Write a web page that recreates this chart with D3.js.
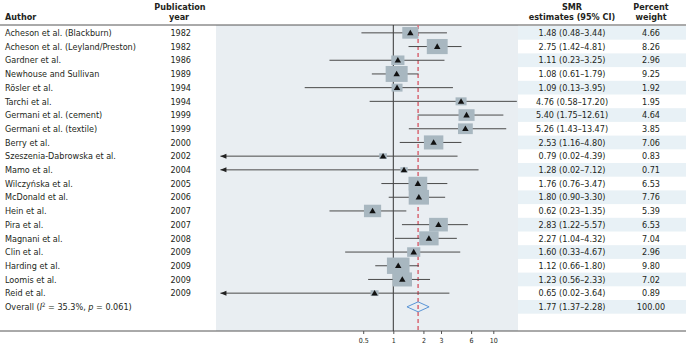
<!DOCTYPE html>
<html><head><meta charset="utf-8">
<script src="https://cdn.jsdelivr.net/npm/d3@7/dist/d3.min.js"></script>
<style>
body{margin:0;background:#fff;}
text{font-family:"Liberation Sans Narrow","DejaVu Sans Condensed","Arial Narrow",sans-serif;fill:#231f20;}
</style></head>
<body><svg id="c" width="686" height="348"></svg>
<script>
const authors = ["Acheson et al.  (Blackburn)","Acheson et al.  (Leyland/Preston)","Gardner et al.","Newhouse and Sullivan","Rösler et al.","Tarchi et al.","Germani et al. (cement)","Germani et al. (textile)","Berry et al.","Szeszenia-Dabrowska et al.","Mamo et al.","Wilczyńska et al.","McDonald et al.","Hein et al.","Pira et al.","Magnani et al.","Clin et al.","Harding et al.","Loomis et al.","Reid et al."];
const years = [1982,1982,1986,1989,1994,1994,1999,1999,2000,2002,2004,2005,2006,2007,2007,2008,2009,2009,2009,2009];
const smr = [1.48,2.75,1.11,1.08,1.09,4.76,5.40,5.26,2.53,0.79,1.28,1.76,1.80,0.62,2.83,2.27,1.60,1.12,1.23,0.65];
const lower = [0.48,1.42,0.23,0.61,0.13,0.58,1.75,1.43,1.16,0.02,0.02,0.76,0.90,0.23,1.22,1.04,0.33,0.66,0.56,0.02];
const upper = [3.44,4.81,3.25,1.79,3.95,17.20,12.61,13.47,4.80,4.39,7.12,3.47,3.30,1.35,5.57,4.32,4.67,1.80,2.33,3.64];
const weights = [4.66,8.26,2.96,9.25,1.92,1.95,4.64,3.85,7.06,0.83,0.71,6.53,7.76,5.39,6.53,7.04,2.96,9.80,7.02,0.89];
const overall = {smr:1.77, lower:1.37, upper:2.28, weight:100.00};
const tickValues = [0.5,1,2,3,6,10];
const tickLabels = ["0.5","1","2","3","6","10"];
const arrowLimit = 0.02;

const svg = d3.select("#c");
const W = 686;
const fmt = d3.format(".2f");
const nRows = authors.length + 1;
const y = d3.scaleBand().domain(d3.range(nRows)).range([26, 26 + nRows*13.7]).padding(0);
const x = d3.scaleLog().domain([0.01686, 17.66]).range([216, 518]);
const yTop = 25, yBot = 331;

// panel
svg.append("rect").attr("x",216).attr("y",yTop).attr("width",302).attr("height",yBot-yTop).attr("fill","#e9eef2");
// stripes right
d3.range(nRows).filter(i=>i%2===0).forEach(i=>{
  svg.append("rect").attr("x",518).attr("y",y(i)).attr("width",W-518).attr("height",y.bandwidth()).attr("fill","#e8f1f6");
});
// rules
svg.append("line").attr("x1",0).attr("x2",W).attr("y1",yTop).attr("y2",yTop).attr("stroke","#555").attr("stroke-width",1);
svg.append("line").attr("x1",0).attr("x2",W).attr("y1",yBot).attr("y2",yBot).attr("stroke","#555").attr("stroke-width",1);

// headers
const hdr = svg.append("g").attr("font-weight","bold").attr("font-size","9px");
hdr.append("text").attr("x",5).attr("y",20).text("Author");
hdr.append("text").attr("x",180).attr("y",10).attr("text-anchor","middle").text("Publication");
hdr.append("text").attr("x",179).attr("y",20).attr("text-anchor","middle").text("year");
hdr.append("text").attr("x",572).attr("y",10).attr("text-anchor","middle").text("SMR");
hdr.append("text").attr("x",572).attr("y",20).attr("text-anchor","middle").text("estimates (95% CI)");
hdr.append("text").attr("x",651).attr("y",10).attr("text-anchor","middle").text("Percent");
hdr.append("text").attr("x",651).attr("y",20).attr("text-anchor","middle").text("weight");

// reference lines
svg.append("line").attr("x1",x(1)).attr("x2",x(1)).attr("y1",yTop).attr("y2",yBot).attr("stroke","#333").attr("stroke-width",1);
svg.append("line").attr("x1",x(overall.smr)).attr("x2",x(overall.smr)).attr("y1",yTop).attr("y2",yBot)
  .attr("stroke","#d9707c").attr("stroke-width",1.6).attr("stroke-dasharray","4,3");

// box size
const boxW = d3.scaleLinear().domain([0, Math.sqrt(10)]).range([1.7, 22.8]);

const rows = authors.map((a,i)=>({a, yr:years[i], m:smr[i], lo:lower[i], hi:upper[i], w:weights[i]}));
const g = svg.append("g");
rows.forEach((r,i)=>{
  const cy = y(i) + y.bandwidth()/2;
  g.append("text").attr("x",5).attr("y",cy+3.2).attr("font-size","9px").text(r.a);
  g.append("text").attr("x",191).attr("y",cy+3.2).attr("font-size","9px").attr("text-anchor","end").text(r.yr);
  g.append("text").attr("x",572).attr("y",cy+3.2).attr("font-size","9px").attr("text-anchor","middle")
    .text(`${fmt(r.m)} (${fmt(r.lo)}–${fmt(r.hi)})`);
  g.append("text").attr("x",651).attr("y",cy+3.2).attr("font-size","9px").attr("text-anchor","middle").text(fmt(r.w));
  const arrow = r.lo <= arrowLimit;
  const xl = arrow ? x(r.lo) - 3 : x(r.lo);
  g.append("line").attr("x1",xl).attr("x2",x(r.hi)).attr("y1",cy).attr("y2",cy).attr("stroke","#4a4a4a").attr("stroke-width",1);
  if(arrow){
    g.append("path").attr("d",`M${xl},${cy} L${xl+6},${cy-2.5} L${xl+6},${cy+2.5} Z`).attr("fill","#222");
  }
  const bw = boxW(Math.sqrt(r.w)), bh = bw/1.38;
  g.append("rect").attr("x",x(r.m)-bw/2).attr("y",cy-bh/2).attr("width",bw).attr("height",bh).attr("fill","#a8b7c0");
  g.append("path").attr("transform",`translate(${x(r.m)},${cy+0.5})`).attr("d",d3.symbol(d3.symbolTriangle,18)()).attr("fill","#111");
});

// overall
const oi = authors.length;
const ocy = y(oi) + y.bandwidth()/2;
const ot = g.append("text").attr("x",5).attr("y",ocy+3.2).attr("font-size","9px");
ot.append("tspan").text("Overall (");
ot.append("tspan").attr("font-style","italic").text("I");
ot.append("tspan").attr("font-size","6px").attr("dy",-3.5).text("2");
ot.append("tspan").attr("dy",3.5).text(" = 35.3%, ");
ot.append("tspan").attr("font-style","italic").text("p");
ot.append("tspan").text(" = 0.061)");
g.append("text").attr("x",572).attr("y",ocy+3.2).attr("font-size","9px").attr("text-anchor","middle")
  .text(`${fmt(overall.smr)} (${fmt(overall.lower)}–${fmt(overall.upper)})`);
g.append("text").attr("x",651).attr("y",ocy+3.2).attr("font-size","9px").attr("text-anchor","middle").text(fmt(overall.weight));
g.append("path").attr("d",`M${x(overall.lower)},${ocy} L${x(overall.smr)},${ocy-5} L${x(overall.upper)},${ocy} L${x(overall.smr)},${ocy+5} Z`)
  .attr("fill","none").attr("stroke","#5a95d6").attr("stroke-width",1);

// axis
const axis = d3.axisBottom(x).tickValues(tickValues).tickFormat((d,i)=>tickLabels[i]).tickSize(3).tickPadding(4);
const ax = svg.append("g").attr("transform",`translate(0,${yBot})`).call(axis);
ax.select(".domain").remove();
ax.selectAll("line").attr("stroke","#555");
ax.selectAll("text").attr("font-size","7px").attr("fill","#231f20").style("font-family",'"Liberation Sans Narrow","DejaVu Sans Condensed",sans-serif');
</script></body></html>
